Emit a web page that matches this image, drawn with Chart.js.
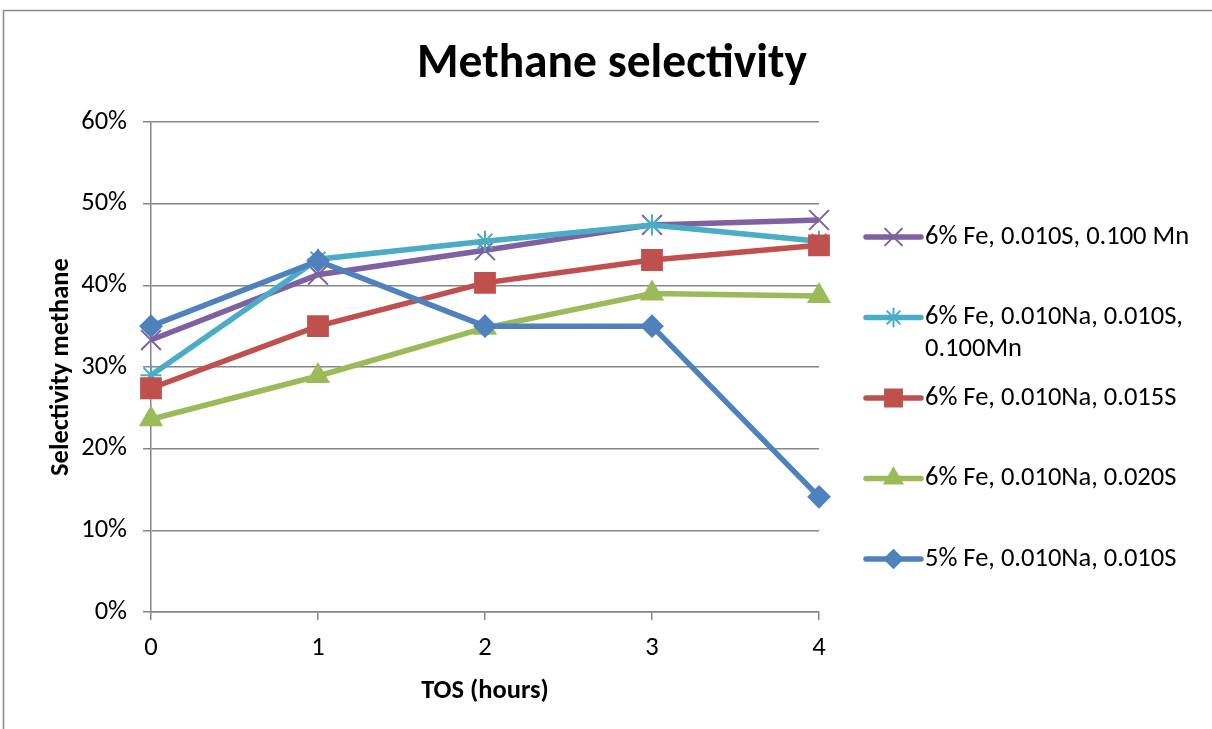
<!DOCTYPE html>
<html>
<head>
<meta charset="utf-8">
<script src="https://cdn.jsdelivr.net/npm/chart.js@4.4.1/dist/chart.umd.min.js"></script>
<style>
  html, body { margin: 0; padding: 0; background: #fff; }
  #wrap { width: 1212px; height: 729px; }
</style>
</head>
<body>
<div id="wrap"><canvas id="methaneChart" width="1212" height="729"></canvas></div>
<script>
// TOS in hours (x axis categories)
const hours = ['0', '1', '2', '3', '4'];
const yTicks = [0, 10, 20, 30, 40, 50, 60];

// selectivity, %
const feSMn = [33.3, 41.3, 44.3, 47.4, 48.0];
const feNaSMn = [29.0, 43.2, 45.4, 47.4, 45.4];
const feNaS015 = [27.4, 35.0, 40.3, 43.1, 44.9];
const feNaS020 = [23.6, 28.9, 34.8, 39.0, 38.7];
const fe5NaS = [35.0, 43.0, 35.0, 35.0, 14.1];

const seriesNames = [
    '6% Fe, 0.010S, 0.100 Mn',
    '6% Fe, 0.010Na, 0.010S, 0.100Mn',
    '6% Fe, 0.010Na, 0.015S',
    '6% Fe, 0.010Na, 0.020S',
    '5% Fe, 0.010Na, 0.010S'
];

const FONT = 'Carlito, Calibri, Lato, sans-serif';

function series(label, data, color, style, radius, order) {
    return {
        label: label,
        data: data,
        borderColor: color,
        backgroundColor: color,
        pointBackgroundColor: color,
        pointBorderColor: color,
        borderWidth: 5.5,
        pointBorderWidth: 2,
        pointStyle: style,
        pointRadius: radius,
        pointHoverRadius: radius,
        tension: 0,
        fill: false,
        order: order
    };
}

// frame around the whole chart
const framePlugin = {
    id: 'frame',
    beforeDraw(chart) {
        const ctx = chart.ctx;
        ctx.save();
        ctx.strokeStyle = '#898989';
        ctx.lineWidth = 1.5;
        ctx.strokeRect(3.5, 10.5, 1240, 760);
        ctx.restore();
    }
};

// legend on the right, spaced like the original
const sideLegend = {
    id: 'sideLegend',
    afterDraw(chart) {
        const ctx = chart.ctx;
        const x0 = 866, x1 = 921, tx = 925, maxW = 1205 - tx;
        const top = 237, step = 80.5;
        ctx.save();
        ctx.font = '26.5px ' + FONT;
        ctx.textBaseline = 'middle';
        chart.data.datasets.forEach((ds, i) => {
            const y = top + i * step;
            ctx.strokeStyle = ds.borderColor;
            ctx.lineWidth = 5.5;
            ctx.lineCap = 'round';
            ctx.beginPath();
            ctx.moveTo(x0, y);
            ctx.lineTo(x1, y);
            ctx.stroke();
            ctx.fillStyle = ds.pointBackgroundColor;
            ctx.strokeStyle = ds.pointBorderColor;
            ctx.lineWidth = 2;
            Chart.helpers.drawPoint(ctx, {
                pointStyle: ds.pointStyle,
                radius: ds.pointRadius * 0.85,
                rotation: 0,
                borderWidth: 2
            }, (x0 + x1) / 2, y);
            // wrap long labels
            const words = ds.label.split(' ');
            const lines = [];
            let cur = '';
            words.forEach(w => {
                const t = cur ? cur + ' ' + w : w;
                if (ctx.measureText(t).width > maxW && cur) {
                    lines.push(cur);
                    cur = w;
                } else {
                    cur = t;
                }
            });
            lines.push(cur);
            ctx.fillStyle = '#000';
            lines.forEach((ln, k) => ctx.fillText(ln, tx, y + k * 32));
        });
        ctx.restore();
    }
};

const ctx = document.getElementById('methaneChart').getContext('2d');
new Chart(ctx, {
    type: 'line',
    data: {
        labels: hours,
        datasets: [
            series(seriesNames[0], feSMn, '#7F60A1', 'crossRot', 14, 5),
            series(seriesNames[1], feNaSMn, '#4BACC6', 'star', 10.5, 4),
            series(seriesNames[2], feNaS015, '#C0504D', 'rect', 14, 3),
            series(seriesNames[3], feNaS020, '#9BBB59', 'triangle', 12, 2),
            series(seriesNames[4], fe5NaS, '#4F81BD', 'rectRot', 10.5, 1)
        ]
    },
    options: {
        responsive: false,
        animation: false,
        layout: { padding: { left: 12, right: 0, top: 27, bottom: 0 } },
        plugins: {
            legend: { display: false },
            tooltip: { enabled: false },
            title: {
                display: true,
                text: 'Methane selectivity',
                color: '#000',
                font: { family: FONT, size: 47.5, weight: 'bold' },
                padding: { top: 10, bottom: 28 }
            }
        },
        scales: {
            x: {
                offset: false,
                afterFit: s => { s.height = 117; },
                grid: {
                    drawOnChartArea: false,
                    drawTicks: true,
                    tickLength: 8,
                    color: '#868686',
                    lineWidth: 1.5
                },
                border: { color: '#868686', width: 1.5 },
                ticks: {
                    color: '#000',
                    padding: 12,
                    font: { family: FONT, size: 26.5 }
                },
                title: {
                    display: true,
                    text: 'TOS (hours)',
                    color: '#000',
                    font: { family: FONT, size: 26.5, weight: 'bold' },
                    padding: { top: 0, bottom: 22 }
                }
            },
            y: {
                min: 0,
                max: 60,
                afterFit: s => { s.width = 139; },
                afterBuildTicks: s => { s.ticks = yTicks.map(v => ({ value: v })); },
                grid: {
                    color: '#868686',
                    lineWidth: 1.5,
                    tickLength: 8
                },
                border: { color: '#868686', width: 1.5 },
                ticks: {
                    color: '#000',
                    padding: 16,
                    font: { family: FONT, size: 26.5 },
                    callback: v => v + '%'
                },
                title: {
                    display: true,
                    text: 'Selectivity methane',
                    color: '#000',
                    font: { family: FONT, size: 26.5, weight: 'bold' },
                    padding: { top: 33, bottom: 0 }
                }
            },
            // empty right axis that keeps room for the legend
            legendSpace: {
                type: 'linear',
                position: 'right',
                min: 0,
                max: 60,
                afterFit: s => { s.width = 393; },
                grid: { display: false },
                border: { display: false },
                ticks: { display: false }
            }
        }
    },
    plugins: [framePlugin, sideLegend]
});
</script>
</body>
</html>
